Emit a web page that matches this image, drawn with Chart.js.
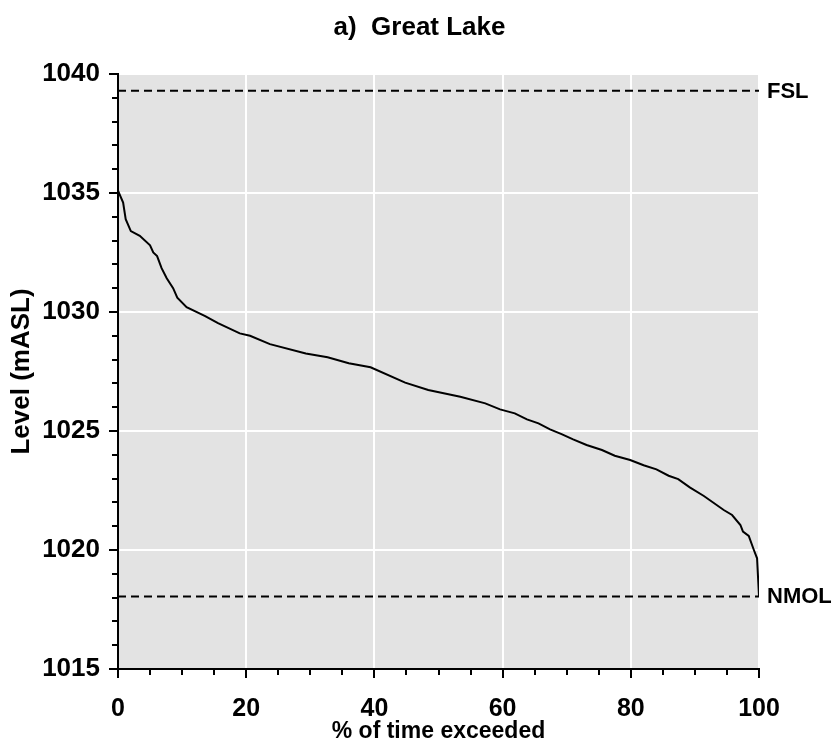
<!DOCTYPE html>
<html>
<head>
<meta charset="utf-8">
<title>Great Lake</title>
<script src="https://cdn.jsdelivr.net/npm/chart.js@4.4.1/dist/chart.umd.min.js"></script>
<style>
  html, body { margin: 0; padding: 0; background: #ffffff; }
  #wrap { width: 837px; height: 749px; }
</style>
</head>
<body>
<div id="wrap"><canvas id="graph" width="837" height="749"></canvas></div>
<script>
// level duration curve, % of time exceeded vs lake level (mASL)
var pctExceeded = [0, 0.8, 1.2, 2.0, 3.4, 5.0, 5.5, 6.1, 6.8, 7.6, 8.6, 9.25, 10.7, 13.6, 15.6, 19.0,
  20.6, 23.7, 29.3, 32.7, 36.0, 39.4, 44.8, 48.4, 53.4, 57.3, 59.6, 61.9, 63.8, 65.6, 67.4,
  69.2, 71.0, 73.1, 75.5, 77.5, 79.9, 82.0, 84.0, 85.9, 87.4, 89.2, 91.4, 94.5, 95.8, 97.1,
  97.5, 98.4, 99.2, 99.7, 100];
var levels = [1035.1, 1034.6, 1033.9, 1033.4, 1033.2, 1032.8, 1032.5, 1032.35, 1031.84, 1031.42,
  1031.0, 1030.6, 1030.2, 1029.83, 1029.53, 1029.1, 1029.0, 1028.65, 1028.26, 1028.1, 1027.85,
  1027.68, 1027.03, 1026.72, 1026.44, 1026.16, 1025.91, 1025.74, 1025.49, 1025.32, 1025.07,
  1024.87, 1024.65, 1024.41, 1024.2, 1023.96, 1023.78, 1023.56, 1023.39, 1023.12, 1022.98,
  1022.63, 1022.27, 1021.68, 1021.47, 1021.05, 1020.77, 1020.59, 1020.0, 1019.65, 1018.05];

var fsl = 1039.3;
var nmol = 1018.05;
var refNames = ["FSL", "NMOL"];
var refLevels = [fsl, nmol];

var xTicks = [0, 20, 40, 60, 80, 100];
var yTicks = [1015, 1020, 1025, 1030, 1035, 1040];

var chartTitle = "a)  Great Lake";
var FONT = "'Liberation Sans', Arial, sans-serif";

var curve = [];
for (var i = 0; i < pctExceeded.length; i++) {
  curve.push({ x: pctExceeded[i], y: levels[i] });
}

function flatLine(v) {
  return [{ x: 0, y: v }, { x: 100, y: v }];
}

// grey plot background
var plotBackground = {
  id: "plotBackground",
  beforeDraw: function(chart) {
    var a = chart.chartArea, c = chart.ctx;
    c.save();
    c.fillStyle = "#e3e3e3";
    c.fillRect(a.left, a.top, a.right - a.left, a.bottom - a.top);
    c.restore();
  }
};

// major and minor tick marks outside the axes, FSL / NMOL labels, page title
var axisExtras = {
  id: "axisExtras",
  afterDraw: function(chart) {
    var c = chart.ctx, a = chart.chartArea;
    var xs = chart.scales.x, ys = chart.scales.y;
    c.save();
    c.strokeStyle = "#000";
    c.lineWidth = 2;
    c.beginPath();
    for (var v = 1015; v <= 1040; v++) {
      var py = Math.round(ys.getPixelForValue(v));
      var len = (v % 5 === 0) ? 9 : 6;
      c.moveTo(a.left - len, py);
      c.lineTo(a.left, py);
    }
    for (var p = 0; p <= 100; p += 5) {
      var px = Math.round(xs.getPixelForValue(p));
      var tl = (p % 20 === 0) ? 9 : 6;
      c.moveTo(px, a.bottom);
      c.lineTo(px, a.bottom + tl);
    }
    c.stroke();

    c.fillStyle = "#000";
    c.font = "bold 22px " + FONT;
    c.textAlign = "left";
    c.textBaseline = "middle";
    for (var k = 0; k < refNames.length; k++) {
      c.fillText(refNames[k], a.right + 8, ys.getPixelForValue(refLevels[k]) + 1);
    }

    c.font = "bold 26px " + FONT;
    c.textAlign = "center";
    c.fillText(chartTitle, chart.width / 2 + 1, 28);
    c.restore();
  }
};

var ctx = document.getElementById("graph").getContext("2d");

var chart = new Chart(ctx, {
  type: "line",
  data: {
    datasets: [{
      label: "Level",
      data: curve,
      borderColor: "#000",
      borderWidth: 2,
      pointRadius: 0,
      tension: 0,
      fill: false
    }, {
      label: "FSL",
      data: flatLine(fsl),
      borderColor: "#000",
      borderWidth: 2,
      borderDash: [8, 5],
      pointRadius: 0,
      fill: false
    }, {
      label: "NMOL",
      data: flatLine(nmol),
      borderColor: "#000",
      borderWidth: 2,
      borderDash: [8, 5],
      pointRadius: 0,
      fill: false
    }]
  },
  options: {
    responsive: false,
    animation: false,
    layout: { padding: { left: 0, right: 78, top: 74, bottom: 0 } },
    plugins: {
      legend: { display: false },
      tooltip: { enabled: false },
      title: { display: false }
    },
    scales: {
      x: {
        type: "linear",
        min: 0,
        max: 100,
        afterFit: function(s) { s.height = 80; },
        afterBuildTicks: function(s) { s.ticks = xTicks.map(function(v) { return { value: v }; }); },
        ticks: {
          color: "#000",
          padding: 25,
          font: { family: FONT, size: 25, weight: "bold" },
          callback: function(v) { return String(v); }
        },
        grid: { color: "#ffffff", lineWidth: 2, drawTicks: false },
        border: { display: true, color: "#000", width: 2 },
        title: {
          display: true,
          text: "% of time exceeded",
          color: "#000",
          font: { family: FONT, size: 23, weight: "bold" },
          padding: { top: 0, bottom: 4 }
        }
      },
      y: {
        type: "linear",
        min: 1015,
        max: 1040,
        afterFit: function(s) { s.width = 118; },
        afterBuildTicks: function(s) { s.ticks = yTicks.map(function(v) { return { value: v }; }); },
        ticks: {
          color: "#000",
          padding: 18,
          font: { family: FONT, size: 26, weight: "bold" },
          callback: function(v) { return String(v); }
        },
        grid: { color: "#ffffff", lineWidth: 2, drawTicks: false },
        border: { display: true, color: "#000", width: 2 },
        title: {
          display: true,
          text: "Level (mASL)",
          color: "#000",
          font: { family: FONT, size: 26, weight: "bold" },
          padding: { top: 6, bottom: 0 }
        }
      }
    }
  },
  plugins: [plotBackground, axisExtras]
});
</script>
</body>
</html>
